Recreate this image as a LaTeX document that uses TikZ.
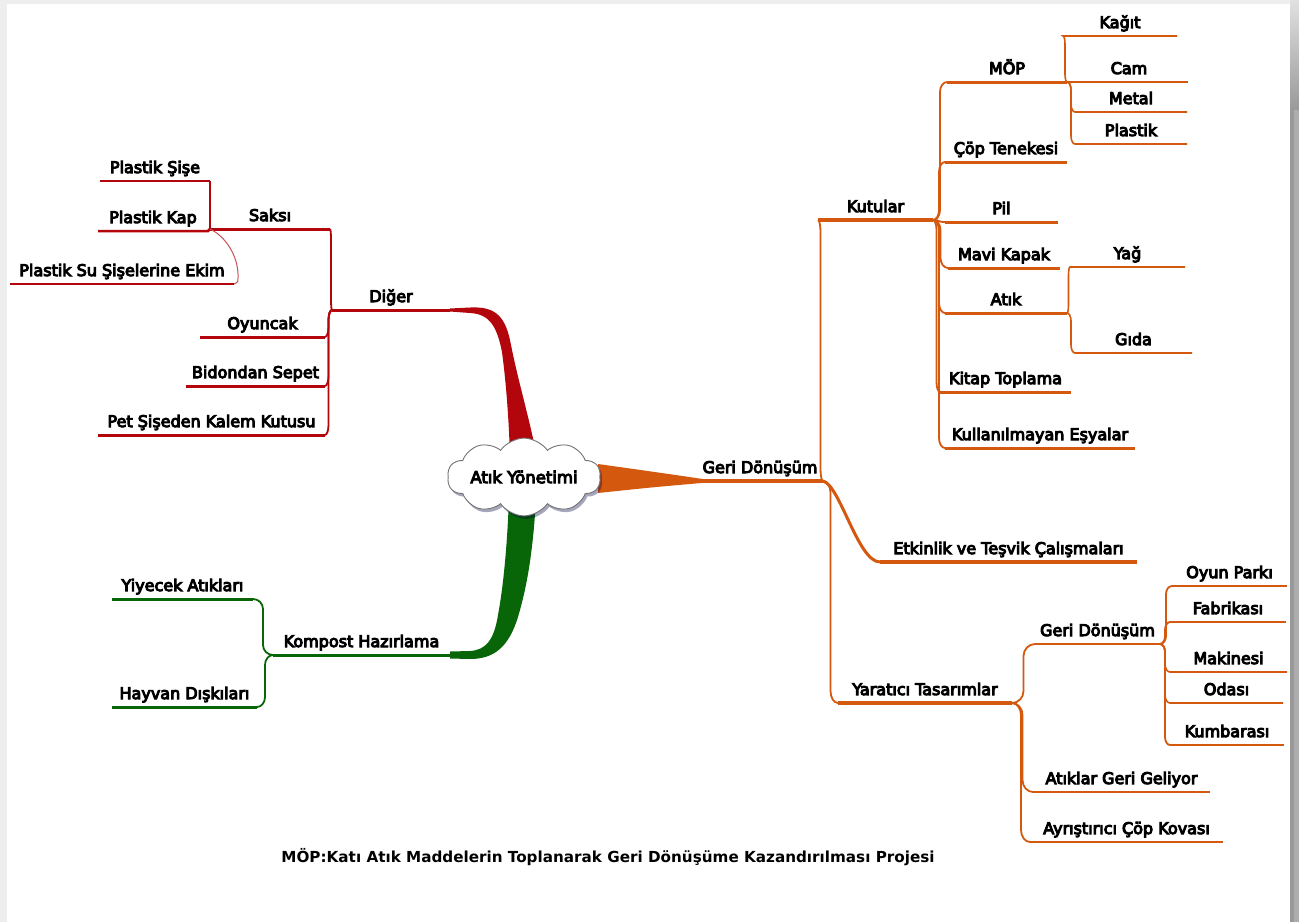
\documentclass[tikz,border=0pt]{standalone}
\usepackage{fontspec}
\setmainfont{DejaVu Sans}
\usetikzlibrary{shapes.symbols,shadows,calc}
\definecolor{og}{RGB}{213,88,15}
\definecolor{rd}{RGB}{178,6,12}
\definecolor{gr}{RGB}{8,102,8}
\definecolor{edgeL}{RGB}{238,238,238}
% slightly heavier glyphs: fill and stroke the text outlines
\newcommand\heavytext{\special{pdf:literal direct 2 Tr 1.0 w}}
\newcommand\plaintext{\special{pdf:literal direct 0 Tr}}
\begin{document}
\begin{tikzpicture}[x=1pt,y=-1pt,
  lab/.style={anchor=south, inner xsep=0pt, inner ysep=8pt, outer sep=0pt,
    text depth=0pt, font=\fontsize{16}{19}\selectfont\heavytext,
    execute at end node=\plaintext},
  % connector from a parent's line end to a child's line start:
  % short horizontal run, rounded corner, vertical spine, rounded corner
  link/.style={to path={
    let \p1=(\tikztostart), \p2=(\tikztotarget),
        \n1={(\x1+\x2)/2},
        \n2={\y2>\y1 ? 1 : -1},
        \n3={min(#1, abs(\y2-\y1)/2)},
        \n4={\x1+0.55*(\n1-\x1)},
        \n5={\x2-0.55*(\x2-\n1)},
        \n6={\n2*0.45*\n3},
        \n7={\n2*\n3}
    in .. controls (\n4,\y1) and (\n1,\y1+\n6) .. (\n1,\y1+\n7)
       -- (\n1,\y2-\n7)
       .. controls (\n1,\y2-\n6) and (\n5,\y2) .. (\tikztotarget)}},
  link/.default=10,
  spine/.style={line width=1.8pt},
  thick1/.style={line width=3.5pt},
  thick2/.style={line width=3pt},
  thick3/.style={line width=2.5pt},
  thin4/.style={line width=1.6pt},
]
\useasboundingbox (0,0) rectangle (1299,922);
% page frame
\fill[edgeL] (0,0) rectangle (1299,922);
\fill[white] (7,4) rectangle (1290,922);
\shade[top color=black!12, bottom color=black!40] (1290,0) rectangle (1299,110);
\fill[black!40] (1290,110) rectangle (1299,922);
\fill[black!32] (1294,110) rectangle (1299,922);

% ---------- labels ----------
% right: recycling
\node[lab, minimum width=126] (gd) at (760,481) {Geri Dönüşüm};
\node[lab, minimum width=115] (kut) at (875.5,220) {Kutular};
\node[lab, minimum width=120] (mop) at (1007,82) {MÖP};
\node[lab, minimum width=122] (cop) at (1006,162) {Çöp Tenekesi};
\node[lab, minimum width=113] (pil) at (1001.5,222) {Pil};
\node[lab, minimum width=112] (mavi) at (1004,268) {Mavi Kapak};
\node[lab, minimum width=122] (atik) at (1006,313) {Atık};
\node[lab, minimum width=131] (kitap) at (1005.5,392) {Kitap Toplama};
\node[lab, minimum width=190] (kull) at (1040,448) {Kullanılmayan Eşyalar};
\node[lab, minimum width=114] (kagit) at (1120,36) {Kağıt};
\node[lab, minimum width=118] (cam) at (1129,82) {Cam};
\node[lab, minimum width=112] (metal) at (1131,112) {Metal};
\node[lab, minimum width=112] (plas) at (1131,144) {Plastik};
\node[lab, minimum width=115] (yag) at (1127.5,267) {Yağ};
\node[lab, minimum width=117] (gida) at (1133.5,353) {Gıda};
\node[lab, minimum width=257] (etk) at (1008.5,562) {Etkinlik ve Teşvik Çalışmaları};
\node[lab, minimum width=174] (yar) at (925,703) {Yaratıcı Tasarımlar};
\node[lab, minimum width=125] (gd2) at (1097.5,644) {Geri Dönüşüm};
\node[lab, minimum width=115] (oyun) at (1229.5,586) {Oyun Parkı};
\node[lab, minimum width=116] (fab) at (1228,622) {Fabrikası};
\node[lab, minimum width=117] (mak) at (1228.5,672) {Makinesi};
\node[lab, minimum width=113] (oda) at (1226.5,703) {Odası};
\node[lab, minimum width=114] (kum) at (1227,745) {Kumbarası};
\node[lab, minimum width=177] (atg) at (1121.5,792) {Atıklar Geri Geliyor};
\node[lab, minimum width=193] (ayr) at (1126.5,842) {Ayrıştırıcı Çöp Kovası};
% left top: other uses
\node[lab, minimum width=118] (dig) at (391,310) {Diğer};
\node[lab, minimum width=120] (saksi) at (270,229) {Saksı};
\node[lab, minimum width=110] (psise) at (155,181) {Plastik Şişe};
\node[lab, minimum width=110] (pkap) at (153,231) {Plastik Kap};
\node[lab, minimum width=224] (psu) at (122,284) {Plastik Su Şişelerine Ekim};
\node[lab, minimum width=125] (oyuncak) at (262.5,337) {Oyuncak};
\node[lab, minimum width=139] (bidon) at (255.5,386) {Bidondan Sepet};
\node[lab, minimum width=227] (pet) at (211.5,435) {Pet Şişeden Kalem Kutusu};
% left bottom: compost
\node[lab, minimum width=177] (komp) at (361.5,655) {Kompost Hazırlama};
\node[lab, minimum width=141] (yiy) at (182.5,599) {Yiyecek Atıkları};
\node[lab, minimum width=145] (hay) at (184.5,707) {Hayvan Dışkıları};

% ---------- orange branch ----------
\fill[og] (598,464) .. controls (655,472) .. (705,479.3) -- (705,482.7)
  .. controls (655,487) .. (598,493) -- cycle;
\draw[og, thick1] (gd.south west) -- (gd.south east);
\draw[og, spine] (gd.south east) to[link=12] (kut.south west);
\draw[og, thick1] (kut.south west) -- (kut.south east);
\draw[og, thick2] (gd.south east) .. controls +(17,4) and +(-22,0) .. (etk.south west);
\draw[og, thick1] (etk.south west) -- (etk.south east);
\draw[og, spine] (gd.south east) to[link=12] (yar.south west);
\draw[og, thick1] (yar.south west) -- (yar.south east);

\foreach \c in {mop,cop,pil,mavi,atik,kitap,kull}{
  \draw[og, spine] (kut.south east) to[link] (\c.south west);
  \draw[og, thick2] (\c.south west) -- (\c.south east);
}
\foreach \c in {kagit,metal,plas}{
  \draw[og, thin4] (mop.south east) to[link=8] (\c.south west) -- (\c.south east);
}
\draw[og, thin4] (mop.south east) -- (cam.south west) -- (cam.south east);
\foreach \c in {yag,gida}{
  \draw[og, thin4] (atik.south east) to[link=8] (\c.south west) -- (\c.south east);
}
\foreach \c in {gd2,atg,ayr}{
  \draw[og, spine] (yar.south east) to[link=12] (\c.south west);
  \draw[og, thick3] (\c.south west) -- (\c.south east);
}
\foreach \c in {oyun,fab,kum}{
  \draw[og, spine] (gd2.south east) to[link=8] (\c.south west);
  \draw[og, thick3] (\c.south west) -- (\c.south east);
}
\foreach \c in {mak,oda}{
  \draw[og, thin4] (gd2.south east) to[link=8] (\c.south west) -- (\c.south east);
}

% ---------- red branch ----------
\fill[rd] (450,308.5) -- (470,307.5) .. controls (497,306) and (506,318) .. (511,345)
  .. controls (519,385) and (530,420) .. (537,458) -- (510,458)
  .. controls (509,420) and (506,382) .. (502,352)
  .. controls (497,327) and (490,314) .. (470,313) -- (450,311.5) -- cycle;
\draw[rd, thick2] (dig.south east) -- (dig.south west);
\foreach \c in {saksi,oyuncak,bidon,pet}{
  \draw[rd, spine] (dig.south west) to[link] (\c.south east);
  \draw[rd, thick2] (\c.south east) -- (\c.south west);
}
\draw[rd, spine] (saksi.south west) to[link=9] (psise.south east);
\draw[rd, thick3] (psise.south east) -- (psise.south west);
\draw[rd, thick3] (saksi.south west) -- (pkap.south east) -- (pkap.south west);
\draw[rd!70, line width=1pt] (saksi.south west) .. controls +(15,7) and +(1,-22) .. ([xshift=4pt,yshift=6pt]psu.south east)
  .. controls +(0,4) .. (psu.south east);
\draw[rd, thick3] (psu.south east) -- (psu.south west);

% ---------- green branch ----------
\fill[gr] (450,651.5) -- (470,651) .. controls (486,650) and (494,640) .. (498,615)
  .. controls (503,588) and (507,550) .. (509,498) -- (536,498)
  .. controls (533,555) and (526,590) .. (518,617)
  .. controls (509,646) and (495,659) .. (470,659) -- (450,658.5) -- cycle;
\draw[gr, thick2] (komp.south east) -- (komp.south west);
\foreach \c in {yiy,hay}{
  \draw[gr, spine] (komp.south west) to[link=10] (\c.south east);
  \draw[gr, thick2] (\c.south east) -- (\c.south west);
}

% ---------- central topic ----------
\node[cloud, cloud puffs=10, cloud puff arc=110, aspect=2.7,
      minimum width=150pt, minimum height=53pt, inner sep=0pt,
      draw=black!55, line width=0.9pt, fill=white,
      drop shadow={shadow xshift=2pt, shadow yshift=-3pt, opacity=0.35, fill=blue!25!black},
      font=\fontsize{16.5}{19}\selectfont] (root) at (524,477)
      {\heavytext Atık Yönetimi\plaintext};

% ---------- footnote ----------
\node[font=\bfseries\fontsize{15.2}{18}\selectfont] (note) at (608,857)
  {MÖP:Katı Atık Maddelerin Toplanarak Geri Dönüşüme Kazandırılması Projesi};
\end{tikzpicture}
\end{document}
